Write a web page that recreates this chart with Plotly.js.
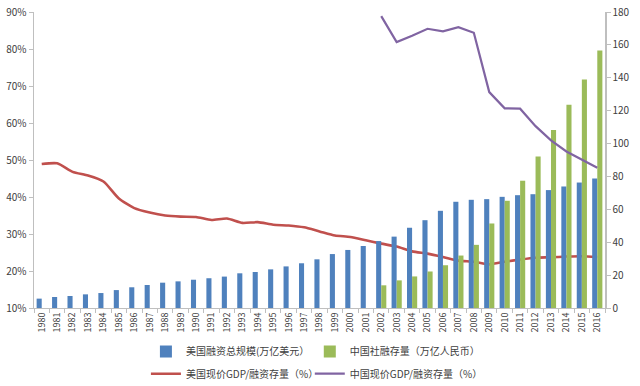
<!DOCTYPE html>
<html>
<head>
<meta charset="utf-8">
<script src="https://cdn.plot.ly/plotly-3.0.1.min.js"></script>
<style>html,body{margin:0;padding:0;background:#fff;}#chart{width:640px;height:386px;}</style>
</head>
<body>
<div id="chart"></div>
<script>
const years = ['1980','1981','1982','1983','1984','1985','1986','1987','1988','1989','1990','1991','1992','1993','1994','1995','1996','1997','1998','1999','2000','2001','2002','2003','2004','2005','2006','2007','2008','2009','2010','2011','2012','2013','2014','2015','2016'];
const usFinancing = [5.7,6.7,7.3,8.3,9.1,10.9,12.6,14.0,15.4,16.2,17.2,18.1,19.1,21.1,21.9,23.5,25.3,27.2,29.6,32.8,35.3,37.7,40.7,43.4,48.8,53.4,59.1,64.6,65.8,66.2,67.6,68.6,69.2,71.7,73.9,76.3,78.8];
const chinaYears = ['2002','2003','2004','2005','2006','2007','2008','2009','2010','2011','2012','2013','2014','2015','2016'];
const chinaTSF = [13.8,16.8,19.2,22.2,26.0,31.9,38.4,51.4,65.2,77.4,92.2,108.2,123.6,139.0,156.6];
const usGdpRatio = [48.9,49.1,46.8,45.8,44.2,39.6,37.0,35.8,35.0,34.7,34.6,33.8,34.2,33.0,33.2,32.5,32.3,31.8,30.7,29.6,29.2,28.3,27.4,26.6,25.3,24.7,23.8,22.8,22.5,21.8,22.5,23.1,23.6,23.7,23.9,24.0,23.8];
const chinaGdpRatio = [177.5,161.7,165.5,169.8,168.2,170.8,167.4,131.3,121.4,121.2,110.6,101.9,95.2,90.3,85.3];
const leftTicks = [10,20,30,40,50,60,70,80,90];
const rightTicks = [0,20,40,60,80,100,120,140,160,180];

const fontFam = '"Noto Sans CJK SC", "Noto Sans", sans-serif';
const data = [
  {type:'bar', name:'美国融资总规模(万亿美元）', x:years, y:usFinancing, yaxis:'y2',
   marker:{color:'#4F81BD'}, legend:'legend'},
  {type:'bar', name:'中国社融存量（万亿人民币）', x:chinaYears, y:chinaTSF, yaxis:'y2',
   marker:{color:'#9BBB59'}, legend:'legend2'},
  {type:'scatter', mode:'lines', name:'美国现价GDP/融资存量（%）', x:years, y:usGdpRatio, yaxis:'y',
   line:{color:'#C0504D', width:2.6, shape:'spline', smoothing:0.6}, legend:'legend3'},
  {type:'scatter', mode:'lines', name:'中国现价GDP/融资存量（%）', x:chinaYears, y:chinaGdpRatio, yaxis:'y2',
   line:{color:'#8064A2', width:2.2}, legend:'legend4'}
];
function leg(x, y){
  return {orientation:'h', x:x, xanchor:'left', y:y, yanchor:'middle',
    font:{size:10, color:'#404040', family:fontFam}, bgcolor:'rgba(0,0,0,0)', itemwidth:30};
}
const layout = {
  width:640, height:386,
  margin:{l:34, r:35, t:12, b:78, autoexpand:false},
  paper_bgcolor:'#fff', plot_bgcolor:'#fff',
  font:{family:fontFam, size:10, color:'#404040'},
  barmode:'group', bargap:0.34, bargroupgap:0,
  showlegend:true,
  xaxis:{type:'category', categoryorder:'array', categoryarray:years,
    range:[-0.5, 36.5], tickangle:-90, tickfont:{size:9, color:'#404040'},
    ticks:'outside', ticklen:4, tickcolor:'#BFBFBF', tickson:'boundaries',
    showline:true, linecolor:'#BFBFBF', linewidth:1, showgrid:false, zeroline:false, automargin:false},
  yaxis:{range:[10,90], tickvals:leftTicks, ticktext:leftTicks.map(v=>v+'%'),
    ticks:'outside', ticklen:4, tickcolor:'#BFBFBF', automargin:false,
    showline:true, linecolor:'#BFBFBF', linewidth:1.5, showgrid:false, zeroline:false,
    tickfont:{size:10, color:'#404040'}},
  yaxis2:{range:[0,180], tickvals:rightTicks, overlaying:'y', side:'right',
    ticks:'outside', ticklen:4, tickcolor:'#BFBFBF', automargin:false,
    showline:true, linecolor:'#BFBFBF', linewidth:1.5, showgrid:false, zeroline:false,
    tickfont:{size:10, color:'#404040'}},
  legend: leg(0.196, -0.147),
  legend2: leg(0.483, -0.147),
  legend3: leg(0.196, -0.222),
  legend4: leg(0.483, -0.222)
};
Plotly.newPlot('chart', data, layout, {displayModeBar:false, staticPlot:true});
</script>
</body>
</html>
